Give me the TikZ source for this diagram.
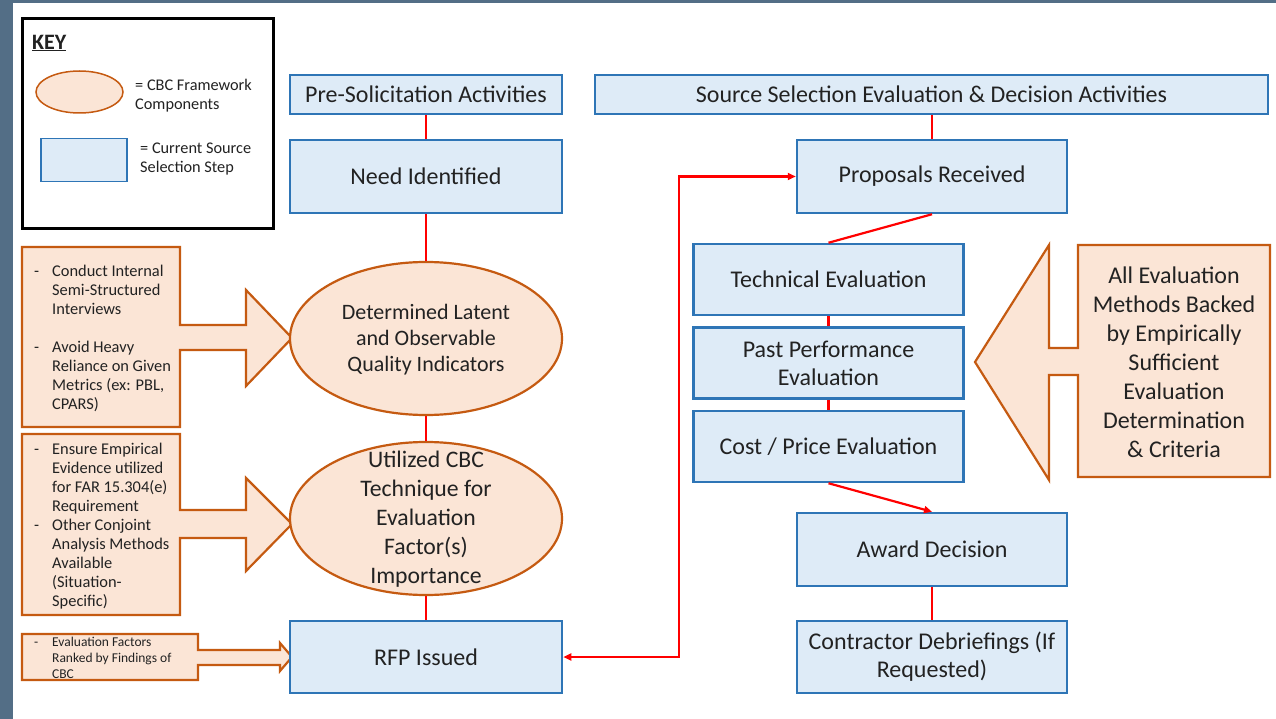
\documentclass[tikz,border=0pt]{standalone}
\usepackage{fontspec}
\setmainfont{Carlito}
\usetikzlibrary{shapes.geometric,arrows.meta}
\definecolor{bgstrip}{HTML}{536E86}
\definecolor{ofill}{HTML}{FBE5D6}
\definecolor{oline}{HTML}{C55A11}
\definecolor{bfill}{HTML}{DEEBF7}
\definecolor{bline}{HTML}{2E75B6}
\definecolor{txt}{HTML}{222222}
\definecolor{redline}{HTML}{FF0000}
\newcommand{\bdash}{\makebox[18pt][l]{-}}
\newcommand{\bind}{\hspace*{18pt}}
\begin{document}
\begin{tikzpicture}[x=1pt,y=-1pt,
 stepbox/.style={draw=bline, fill=bfill, line width=2.5pt, rectangle, inner sep=0pt, align=center, text=txt, font=\fontsize{24}{28}\selectfont},
 comp/.style={draw=oline, fill=ofill, line width=2.2pt, ellipse, inner sep=0pt},
 comptext/.style={inner sep=0pt, align=center, text=txt},
 callout/.style={draw=oline, fill=ofill, line width=2.2pt, line join=miter},
 note/.style={inner sep=0pt, align=left, text=txt, font=\fontsize{16.4}{19}\selectfont},
 link/.style={draw=redline, line width=2.2pt},
 tipend/.style={-{Triangle[length=8pt,width=7pt]}},
 tipboth/.style={{Triangle[length=8pt,width=7pt]}-{Triangle[length=8pt,width=7pt]}}
]
\useasboundingbox (0,0) rectangle (1276,719);
\fill[white] (0,0) rectangle (1276,719);
\fill[bgstrip] (0,0) rectangle (13,719);
\fill[bgstrip] (0,0) rectangle (1276,3);

% key
\node[draw=black, line width=3pt, minimum width=251, minimum height=210, inner sep=0pt] (key) at (147.5,124) {};
\node[anchor=west, inner sep=0pt, text=txt, font=\fontsize{22}{26}\selectfont\bfseries] (keytitle) at (32,43) {\underline{KEY}};
\node[comp, line width=1.5pt, minimum width=87, minimum height=42] (keyell) at (79.5,92) {};
\node[anchor=west, inner sep=0pt, align=left, text=txt, font=\fontsize{16.3}{19}\selectfont] (keyt1) at (135,95.5) {= CBC Framework\\Components};
\node[stepbox, line width=1.5pt, minimum width=86, minimum height=43] (keyrect) at (84,160) {};
\node[anchor=west, inner sep=0pt, align=left, text=txt, font=\fontsize{16.3}{19}\selectfont] (keyt2) at (140,159.5) {= Current Source\\Selection Step};

% left callouts
\draw[callout] (22,247) -- (180,247) -- (180,325) -- (246,325) -- (246,290) -- (292,338) -- (246,386) -- (246,350) -- (180,350) -- (180,427) -- (22,427) -- cycle;
\node[note, anchor=west] (na) at (34,338) {\bdash Conduct Internal\\ \bind Semi-Structured\\ \bind Interviews\\[19pt] \bdash Avoid Heavy\\ \bind Reliance on Given\\ \bind Metrics (ex: PBL,\\ \bind CPARS)};

\draw[callout] (22,434) -- (180,434) -- (180,510) -- (246,510) -- (246,478) -- (292,524) -- (246,571) -- (246,538) -- (180,538) -- (180,615) -- (22,615) -- cycle;
\node[note, anchor=west] (nb) at (34,526) {\bdash Ensure Empirical\\ \bind Evidence utilized\\ \bind for FAR 15.304(e)\\ \bind Requirement\\ \bdash Other Conjoint\\ \bind Analysis Methods\\ \bind Available\\ \bind (Situation-\\ \bind Specific)};

\draw[callout] (22,634) -- (198,634) -- (198,650) -- (280,650) -- (280,643) -- (292,657) -- (280,671) -- (280,665) -- (198,665) -- (198,680) -- (22,680) -- cycle;
\node[note, anchor=west, font=\fontsize{13.5}{16}\selectfont] (nc) at (34,658) {\bdash Evaluation Factors\\ \bind Ranked by Findings of\\ \bind CBC};

% right callout
\draw[callout] (1078,245) -- (1270,245) -- (1270,477) -- (1078,477) -- (1078,375) -- (1049,375) -- (1049,480) -- (975,362) -- (1049,245) -- (1049,348) -- (1078,348) -- cycle;
\node[comptext, font=\fontsize{24}{29}\selectfont] (allt) at (1174,362.5) {All Evaluation\\Methods Backed\\by Empirically\\Sufficient\\Evaluation\\Determination\\\& Criteria};

% left column
\node[stepbox, minimum width=272, minimum height=39] (pre) at (426,94.5) {Pre-Solicitation Activities};
\node[stepbox, minimum width=272, minimum height=73] (need) at (426,176.5) {Need Identified};
\node[comp, minimum width=272, minimum height=153] (e1) at (426,338.5) {};
\node[comptext, font=\fontsize{22}{26}\selectfont] (e1t) at (426,340) {Determined Latent\\and Observable\\Quality Indicators};
\node[comp, minimum width=272, minimum height=153] (e2) at (426,518.5) {};
\node[comptext, font=\fontsize{23.7}{29}\selectfont] (e2t) at (426,519.5) {Utilized CBC\\Technique for\\Evaluation\\Factor(s)\\Importance};
\node[stepbox, minimum width=272, minimum height=72] (rfp) at (426,657) {RFP Issued};

% right column
\node[stepbox, minimum width=673, minimum height=39] (src) at (931.5,94.5) {Source Selection Evaluation \& Decision Activities};
\node[stepbox, minimum width=270, minimum height=73] (prop) at (932,176.5) {Proposals Received};
\node[stepbox, minimum width=270, minimum height=71] (tech) at (828.5,279.5) {Technical Evaluation};
\node[stepbox, minimum width=270, minimum height=71] (past) at (828.5,363) {Past Performance\\Evaluation};
\node[stepbox, minimum width=270, minimum height=71] (cost) at (828.5,446.5) {Cost / Price Evaluation};
\node[stepbox, minimum width=270, minimum height=73] (award) at (932,549.5) {Award Decision};
\node[stepbox, minimum width=270, minimum height=72] (debrief) at (932,657) {Contractor Debriefings (If\\Requested)};
\coordinate (bend) at (679,176.5);

% connectors
\draw[link] (pre.south) -- (need.north);
\draw[link] (need.south) -- (e1.north);
\draw[link] (e1.south) -- (e2.north);
\draw[link] (e2.south) -- (rfp.north);
\draw[link] (prop.north |- src.south) -- (prop.north);
\draw[link] (prop.south) -- (tech.north);
\draw[link] (tech.south) -- (past.north);
\draw[link] (past.south) -- (cost.north);
\draw[link,tipend] (cost.south) -- (award.north);
\draw[link] (award.south) -- (debrief.north);
\draw[link,tipboth] (rfp.east) -| (bend) -- (prop.west);
\end{tikzpicture}
\end{document}
